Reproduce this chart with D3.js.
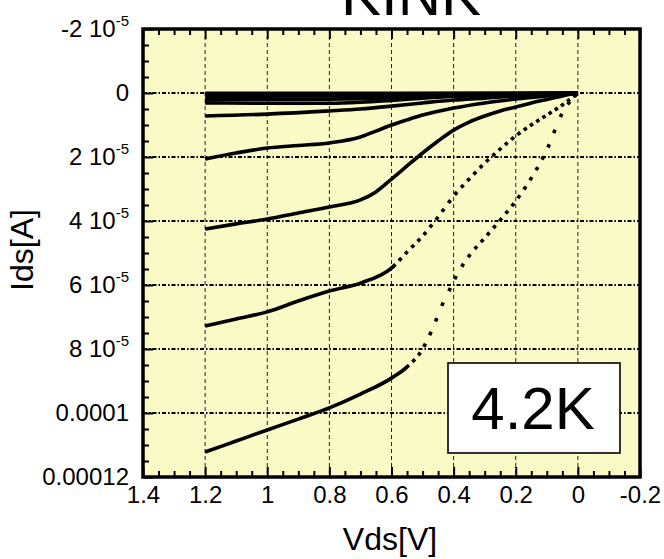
<!DOCTYPE html>
<html>
<head>
<meta charset="utf-8">
<script src="https://cdn.jsdelivr.net/npm/d3@7"></script>
<style>
  html, body { margin: 0; padding: 0; background: #fff; }
  svg { display: block; }
  text { font-family: "Liberation Sans", Arial, sans-serif; fill: #000; }
</style>
</head>
<body>
<script>
// ---------- data (Ids in µA, Vds in V) ----------
const title = "KINK";
const tempLabel = "4.2K";
const xLabel = "Vds[V]";
const yLabel = "Ids[A]";

const xTicks = [1.4, 1.2, 1.0, 0.8, 0.6, 0.4, 0.2, 0, -0.2];
const xTickLabels = ["1.4", "1.2", "1", "0.8", "0.6", "0.4", "0.2", "0", "-0.2"];
const yTicks = [-2e-5, 0, 2e-5, 4e-5, 6e-5, 8e-5, 1e-4, 1.2e-4];
const yTickMain = ["-2 10", "0", "2 10", "4 10", "6 10", "8 10", "0.0001", "0.00012"];
const yTickSup  = ["-5", "", "-5", "-5", "-5", "-5", "", ""];

const c1V = [1.2, 1.1, 1.0, 0.9, 0.8, 0.7, 0.6, 0.55, 0.5, 0.47, 0.45, 0.43, 0.41, 0.39, 0.35, 0.3, 0.25, 0.2, 0.15, 0.1, 0.05, 0];
const c1I = [112.2, 108.75, 105.3, 101.9, 98.4, 94.1, 89.1, 85.6, 80.0, 74.1, 69.4, 64.7, 60.9, 56.9, 50.9, 45.3, 39.7, 33.75, 26.6, 17.8, 6.25, 0];
const c2V = [1.2, 1.1, 1.0, 0.9, 0.8, 0.7, 0.6, 0.55, 0.5, 0.45, 0.4, 0.35, 0.3, 0.25, 0.2, 0.15, 0.1, 0.05, 0];
const c2I = [72.8, 70.6, 68.4, 65.0, 61.9, 59.4, 54.7, 49.7, 44.7, 38.75, 32.2, 26.9, 21.9, 17.5, 13.4, 10.0, 6.9, 3.75, 0];
const c3V = [1.2, 1.1, 1.0, 0.9, 0.8, 0.7, 0.65, 0.6, 0.55, 0.5, 0.45, 0.4, 0.35, 0.3, 0.25, 0.2, 0.15, 0.1, 0.05, 0];
const c3I = [42.5, 40.9, 39.4, 37.5, 35.6, 33.4, 30.9, 26.9, 22.8, 18.75, 15.0, 11.6, 9.1, 7.2, 5.6, 4.4, 3.1, 2.0, 0.9, 0];
const c4V = [1.2, 1.1, 1.0, 0.9, 0.8, 0.7, 0.65, 0.6, 0.55, 0.5, 0.4, 0.3, 0.2, 0.1, 0];
const c4I = [20.6, 18.75, 17.2, 16.4, 15.6, 13.75, 11.9, 10.0, 8.4, 6.9, 4.7, 3.1, 1.9, 0.9, 0];
const c5V = [1.2, 1.0, 0.8, 0.7, 0.6, 0.5, 0.4, 0.3, 0.2, 0.1, 0];
const c5I = [7.2, 6.6, 5.6, 5.0, 4.1, 3.1, 2.2, 1.6, 0.9, 0.5, 0];
const c6V = [1.2, 1.0, 0.8, 0.7, 0.6, 0.5, 0.4, 0.3, 0.2, 0];
const c6I = [3.1, 3.2, 3.2, 2.9, 2.3, 1.6, 1.0, 0.6, 0.3, 0];
const c7V = [1.2, 1.0, 0.8, 0.6, 0.4, 0.2, 0];
const c7I = [2.0, 2.0, 1.9, 1.6, 1.0, 0.4, 0];
const c8V = [1.2, 1.0, 0.8, 0.6, 0.4, 0.2, 0];
const c8I = [1.0, 1.0, 0.9, 0.8, 0.5, 0.2, 0];
const c9V = [1.2, 0.6, 0];
const c9I = [0.1, 0.1, 0];

const seriesV = [c1V, c2V, c3V, c4V, c5V, c6V, c7V, c8V, c9V];
const seriesI = [c1I, c2I, c3I, c4I, c5I, c6I, c7I, c8I, c9I];

// ---------- layout ----------
const W = 664, H = 559;
const L = 143, R = 640, T = 29, B = 477;
const stepV = 0.02; // measurement step (dot pitch)

const svg = d3.select("body").append("svg").attr("width", W).attr("height", H);

const x = d3.scaleLinear().domain([1.4, -0.2]).range([L, R]);
const y = d3.scaleLinear().domain([-2e-5, 1.2e-4]).range([T, B]);

// background
svg.append("rect").attr("x", L).attr("y", T).attr("width", R - L).attr("height", B - T)
  .attr("fill", "#fafac6");

// grid
const gx = xTicks.slice(1, -1), gy = yTicks.slice(1, -1);
svg.append("g").selectAll("line").data(gx).join("line")
  .attr("x1", d => x(d)).attr("x2", d => x(d)).attr("y1", T).attr("y2", B)
  .attr("stroke", "#222").attr("stroke-width", 1).attr("stroke-dasharray", "4,3");
svg.append("g").selectAll("line").data(gy).join("line")
  .attr("x1", L).attr("x2", R).attr("y1", d => y(d)).attr("y2", d => y(d))
  .attr("stroke", "#000").attr("stroke-width", 1.8).attr("stroke-dasharray", "4,2,1.5,2");

// curves: smooth paths; after the kink (first steep part) the points separate into dots
const curvesG = svg.append("g");
const dot = 3.6;
const lineGen = d3.line().x(d => x(d[0])).y(d => y(d[1] * 1e-6)).curve(d3.curveMonotoneX);
const dx = Math.abs(x(0) - x(stepV));
seriesV.forEach((vs, k) => {
  const pts = vs.map((v, i) => [v, seriesI[k][i]]);
  const path = curvesG.append("path").attr("d", lineGen(pts))
    .attr("fill", "none").attr("stroke", "#000").attr("stroke-width", dot)
    .attr("stroke-linecap", "butt").attr("stroke-linejoin", "round");
  const node = path.node();
  const total = node.getTotalLength();
  const pattern = [];
  let solid = 0, l = 0, dotted = false;
  while (l < total) {
    const p1 = node.getPointAtLength(l), p2 = node.getPointAtLength(Math.min(total, l + 1));
    const ddx = Math.abs(p2.x - p1.x) || 1e-6;
    const s = Math.abs(p2.y - p1.y) / ddx;
    const pitch = dx * Math.sqrt(1 + s * s);
    if (pitch > 8.4) dotted = true;
    if (dotted && pitch - dot > 1.5) {
      if (solid > 0) { pattern.push(solid, 0); solid = 0; }
      pattern.push(dot, pitch - dot);
      l += pitch;
    } else {
      solid += 1; l += 1;
    }
  }
  if (solid > 0) pattern.push(solid, 0);
  pattern.push(0, 1000);
  path.attr("stroke-dasharray", pattern.map(v => v.toFixed(2)).join(","));
});

// axes (ticks inward)
const minorX = d3.range(1.4, -0.2001, -0.05).map(v => +v.toFixed(2)).filter(v => !xTicks.some(t => Math.abs(t - v) < 1e-6));
const minorY = d3.range(-2e-5, 1.2e-4 + 1e-9, 5e-6).filter(v => !yTicks.some(t => Math.abs(t - v) < 1e-9));

function styleAxis(g) {
  g.select(".domain").remove();
  g.selectAll(".tick line").attr("stroke", "#000").attr("stroke-width", 2);
}

const xAxis = svg.append("g").attr("transform", `translate(0,${B})`)
  .call(d3.axisBottom(x).tickValues(xTicks).tickSize(-10).tickPadding(9)
    .tickFormat((d, i) => xTickLabels[i]))
  .call(styleAxis);
xAxis.selectAll("text").attr("font-size", 24).attr("font-family", "Liberation Sans, Arial, sans-serif");
svg.append("g").attr("transform", `translate(0,${B})`)
  .call(d3.axisBottom(x).tickValues(minorX).tickSize(-6).tickFormat(""))
  .call(styleAxis);
svg.append("g").attr("transform", `translate(0,${T})`)
  .call(d3.axisTop(x).tickValues(xTicks).tickSize(-10).tickFormat(""))
  .call(styleAxis);
svg.append("g").attr("transform", `translate(0,${T})`)
  .call(d3.axisTop(x).tickValues(minorX).tickSize(-6).tickFormat(""))
  .call(styleAxis);

const yAxis = svg.append("g").attr("transform", `translate(${L},0)`)
  .call(d3.axisLeft(y).tickValues(yTicks).tickSize(-10).tickPadding(14)
    .tickFormat((d, i) => yTickMain[i]))
  .call(styleAxis);
yAxis.selectAll(".tick text").each(function (d, i) {
  const t = d3.select(this);
  t.text(null).attr("font-size", 24).attr("font-family", "Liberation Sans, Arial, sans-serif").attr("dy", "0.30em");
  t.append("tspan").text(yTickMain[i]);
  if (yTickSup[i]) t.append("tspan").attr("dy", -11).attr("font-size", 15).text(yTickSup[i]);
});
svg.append("g").attr("transform", `translate(${L},0)`)
  .call(d3.axisLeft(y).tickValues(minorY).tickSize(-6).tickFormat(""))
  .call(styleAxis);

// frame
svg.append("rect").attr("x", L).attr("y", T).attr("width", R - L).attr("height", B - T)
  .attr("fill", "none").attr("stroke", "#000").attr("stroke-width", 3.5);

// temperature box
svg.append("rect").attr("x", 448).attr("y", 363).attr("width", 172).attr("height", 90)
  .attr("fill", "#fff").attr("stroke", "#000").attr("stroke-width", 1.6);
svg.append("text").attr("x", 533).attr("y", 429).attr("text-anchor", "middle")
  .attr("font-size", 60).text(tempLabel);

// titles (the title is clipped by the top edge, as in the reference)
svg.append("text").attr("x", 411).attr("y", 15).attr("text-anchor", "middle")
  .attr("font-size", 60).text(title);
svg.append("text").attr("x", 390).attr("y", 550).attr("text-anchor", "middle")
  .attr("font-size", 32).text(xLabel);
svg.append("text").attr("transform", "translate(33,250) rotate(-90)").attr("text-anchor", "middle")
  .attr("font-size", 32).text(yLabel);
</script>
</body>
</html>
